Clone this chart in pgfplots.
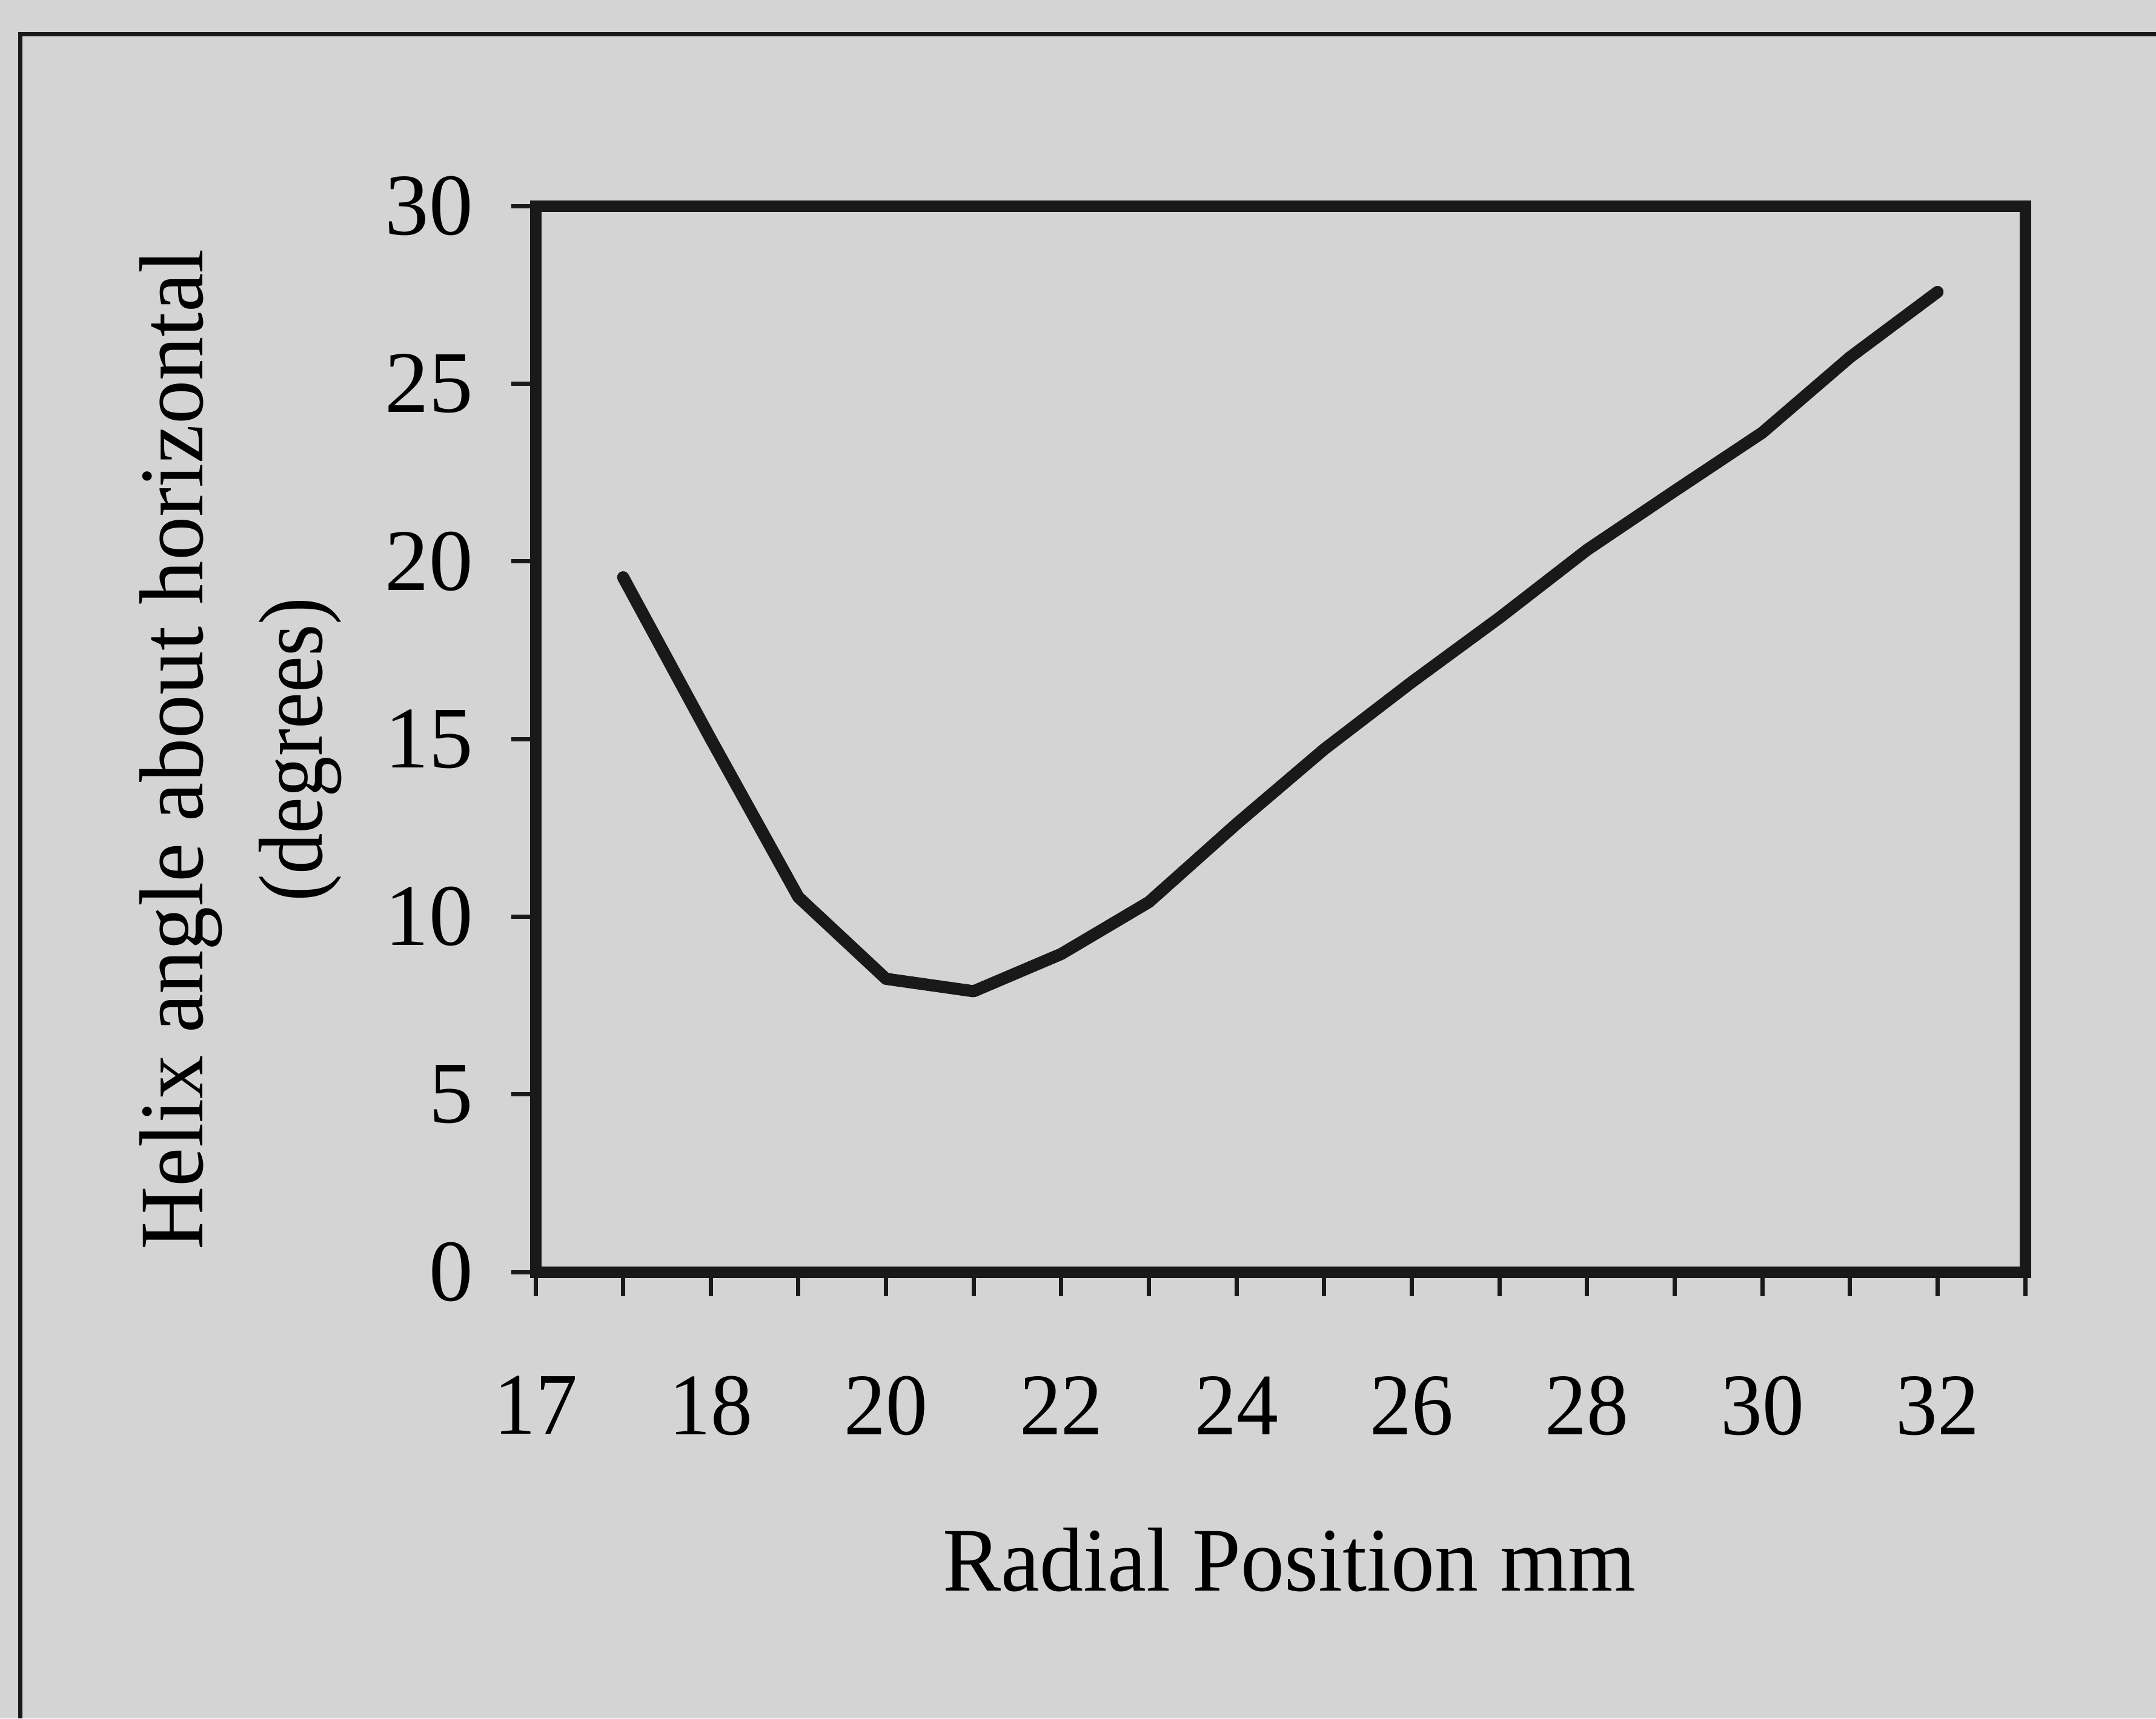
\documentclass[border=0pt]{standalone}
\usepackage{pgfplots}
\pgfplotsset{compat=1.18}
\usepackage{fontspec}
\setmainfont{Liberation Serif}
\definecolor{bg}{RGB}{212,212,212}
\definecolor{ink}{RGB}{25,25,25}
\begin{document}
\begin{tikzpicture}
\useasboundingbox (0,0) rectangle (355.9pt,283.7pt);
\fill[bg] (0,0) rectangle (355.9pt,283.7pt);
\draw[ink, line width=0.7pt] (3.3pt,0pt) -- (3.3pt,278pt) -- (355.9pt,278pt);
\begin{axis}[
  at={(88.4pt,73.7pt)}, anchor=south west,
  scale only axis, width=245.9pt, height=176pt,
  xmin=0, xmax=17, ymin=0, ymax=30,
  axis line style={ink, line width=1.9pt},
  tick align=outside, major tick length=4pt,
  tick style={ink, line width=0.7pt},
  xtick={0,...,17},
  xticklabels={17,,18,,20,,22,,24,,26,,28,,30,,32,},
  ytick={0,5,...,30},
  xtick pos=bottom, ytick pos=left,
  /pgf/number format/assume math mode=true,
  xticklabel style={font=\fontsize{14.5}{17}\selectfont\addfontfeature{FakeStretch=0.95}, anchor=north, inner sep=0pt},
  yticklabel style={font=\fontsize{14.5}{17}\selectfont, anchor=east, inner sep=0pt},
  xticklabel shift=13pt, yticklabel shift=6.1pt,
  xlabel={Radial Position mm},
  xlabel style={font=\fontsize{15}{18}\selectfont\addfontfeature{FakeStretch=0.96}, at={(axis description cs:0.506,-0.2989)}, anchor=base, inner sep=0pt},
  ylabel={{\addfontfeature{FakeStretch=0.965}Helix angle about horizontal}\\{\addfontfeature{FakeStretch=0.9}(degrees)}},
  ylabel style={font=\fontsize{15}{19.7}\selectfont, align=center, at={(axis description cs:-0.1293,0.49)}, anchor=south, inner sep=0pt},
  clip=false,
]
\addplot[ink, line width=2pt, line cap=round, line join=round] coordinates {
(1,19.55) (2,15.0) (3,10.55) (4,8.25) (5,7.9) (6,8.95) (7,10.41) (8,12.61)
(9,14.71) (10,16.6) (11,18.41) (12,20.32) (13,21.98) (14,23.62) (15,25.74) (16,27.58)
};
\end{axis}
\end{tikzpicture}
\end{document}
